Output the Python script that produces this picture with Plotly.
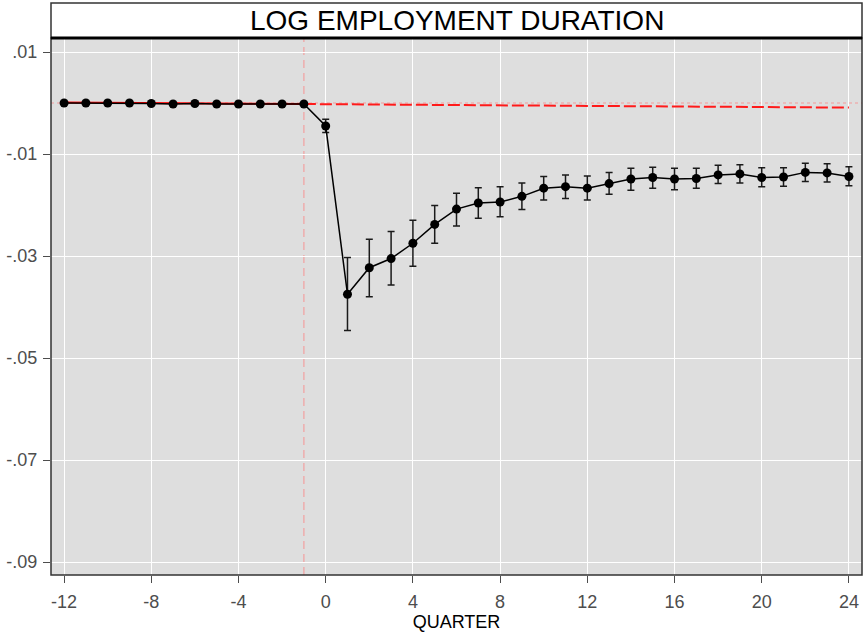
import plotly.graph_objects as go

# ---------------- data ----------------
quarters = list(range(-12, 25))
estimate = [0.0, 0.0, 0.0, 0.0, -0.0001, -0.0002, -0.0001, -0.0002, -0.0002, -0.0002, -0.0002, -0.0002,
            -0.0045, -0.0375, -0.0323, -0.0305, -0.0275, -0.0238, -0.0208, -0.0196, -0.0194, -0.0183,
            -0.0167, -0.0164, -0.0167, -0.0158, -0.0149, -0.0146, -0.0149, -0.0148, -0.0141, -0.0139,
            -0.0146, -0.0145, -0.0136, -0.0137, -0.0144]
ci_upper = [0.0, 0.0, 0.0, 0.0, -0.0001, -0.0002, -0.0001, -0.0002, -0.0002, -0.0002, -0.0002, -0.0002,
            -0.0032, -0.0303, -0.0267, -0.0252, -0.0230, -0.0201, -0.0177, -0.0166, -0.0164, -0.0157,
            -0.0144, -0.0141, -0.0143, -0.0136, -0.0128, -0.0126, -0.0128, -0.0128, -0.0122, -0.0121,
            -0.0127, -0.0127, -0.0118, -0.0119, -0.0125]
ci_lower = [0.0, 0.0, 0.0, 0.0, -0.0001, -0.0002, -0.0001, -0.0002, -0.0002, -0.0002, -0.0002, -0.0002,
            -0.0058, -0.0446, -0.0380, -0.0357, -0.0320, -0.0275, -0.0241, -0.0226, -0.0223, -0.0209,
            -0.0190, -0.0187, -0.0190, -0.0179, -0.0171, -0.0167, -0.0170, -0.0167, -0.0158, -0.0157,
            -0.0164, -0.0163, -0.0154, -0.0155, -0.0162]

pretrend_x = [-12, -1]
pretrend_y = [0.0001, -0.0002]
extrap_x = [-1, 24]
extrap_y = [-0.0002, -0.0009]

event_quarter = -1
x_ticks = [-12, -8, -4, 0, 4, 8, 12, 16, 20, 24]
x_tick_labels = ["-12", "-8", "-4", "0", "4", "8", "12", "16", "20", "24"]
y_ticks = [0.01, -0.01, -0.03, -0.05, -0.07, -0.09]
y_tick_labels = [".01", "-.01", "-.03", "-.05", "-.07", "-.09"]
title_text = "LOG EMPLOYMENT DURATION"
x_title = "QUARTER"

# ---------------- figure ----------------
err_plus = [u - e for u, e in zip(ci_upper, estimate)]
err_minus = [e - l for e, l in zip(estimate, ci_lower)]

fig = go.Figure()

# reference lines
fig.add_hline(y=0, line=dict(color="#f39a9a", width=1.2, dash="dot"), layer="below")
fig.add_vline(x=event_quarter, line=dict(color="#f2a0a0", width=1.2, dash="8px,5px"), layer="below")

fig.add_trace(go.Scatter(x=pretrend_x, y=pretrend_y, mode="lines",
                         line=dict(color="#ff0000", width=2), showlegend=False, hoverinfo="skip"))
fig.add_trace(go.Scatter(x=extrap_x, y=extrap_y, mode="lines",
                         line=dict(color="#ff1a1a", width=2, dash="12px,4px"), showlegend=False, hoverinfo="skip"))

fig.add_trace(go.Scatter(
    x=quarters, y=estimate, mode="lines+markers",
    line=dict(color="black", width=1.5),
    marker=dict(color="black", size=9),
    error_y=dict(type="data", symmetric=False, array=err_plus, arrayminus=err_minus,
                 color="#1a1a1a", thickness=1.5, width=3.5),
    showlegend=False,
))

# panel frame and title strip
strip_h = 35 / 537
fig.add_shape(type="rect", xref="paper", yref="paper", x0=0, x1=1, y0=1, y1=1 + strip_h,
              fillcolor="white", line=dict(color="#333333", width=1.5), layer="above")
fig.add_shape(type="rect", xref="paper", yref="paper", x0=0, x1=1, y0=0, y1=1,
              fillcolor="rgba(0,0,0,0)", line=dict(color="#333333", width=1.5), layer="above")
fig.add_shape(type="line", xref="paper", yref="paper", x0=0, x1=1, y0=1, y1=1,
              line=dict(color="black", width=3), layer="above")
fig.add_annotation(text=title_text, xref="paper", yref="paper", x=0.5, y=1 + strip_h / 2,
                   showarrow=False, font=dict(size=28, color="black", family="Liberation Sans, Arial"),
                   yanchor="middle", xanchor="center")

fig.update_layout(
    width=864, height=632,
    margin=dict(l=51, r=2, t=38, b=57),
    paper_bgcolor="white",
    plot_bgcolor="#dedede",
    font=dict(family="Liberation Sans, Arial", size=18, color="#4d4d4d"),
    xaxis=dict(range=[-12.6, 24.6], tickvals=x_ticks, ticktext=x_tick_labels,
               ticks="outside", ticklen=7, tickwidth=1.2,
               tickcolor="#4d4d4d", showgrid=True, gridcolor="white", gridwidth=1.2,
               zeroline=False, showline=False, ticklabelstandoff=3,
               title=dict(text=x_title, font=dict(size=18, color="black"), standoff=4)),
    yaxis=dict(range=[-0.09255, 0.01275], tickvals=y_ticks, ticktext=y_tick_labels,
               ticks="outside", ticklen=7, tickwidth=1.2, tickcolor="#4d4d4d", ticklabelstandoff=2,
               showgrid=True, gridcolor="white", gridwidth=1.2, zeroline=False, showline=False),
)

fig.write_html("out.html")
